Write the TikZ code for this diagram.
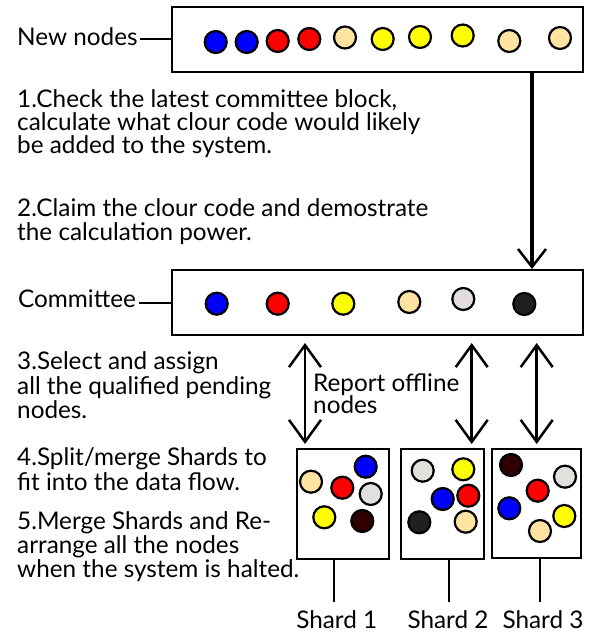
\documentclass[tikz,border=0pt]{standalone}
\usepackage{fontspec}
\setmainfont{Lato}
\usetikzlibrary{arrows.meta}
\definecolor{cblue}{HTML}{0000FF}
\definecolor{cred}{HTML}{FF0000}
\definecolor{ctan}{HTML}{FFE3A3}
\definecolor{cyel}{HTML}{FFFF00}
\definecolor{cgray}{HTML}{E2DCDC}
\definecolor{sgray}{HTML}{E0E0DC}
\definecolor{cdark}{HTML}{231F20}
\definecolor{cbrown}{HTML}{2E0000}
\tikzset{
  box/.style={draw=black, line width=2pt, fill=white, inner sep=0pt},
  dot/.style={circle, draw=black, line width=2.2pt, minimum size=22pt, inner sep=0pt},
  txt/.style={anchor=base west, inner sep=0pt, font=\fontsize{24.3}{26}\selectfont},
  lab/.style={anchor=base, inner sep=0pt, font=\fontsize{24.3}{26}\selectfont},
  lnk/.style={line width=2pt},
  bigarrow/.style={line width=4pt, -{Straight Barb[length=18pt,width=28pt,line width=2.5pt]}},
  dbl/.style={line width=2.5pt, {Straight Barb[length=22pt,width=32pt]}-{Straight Barb[length=22pt,width=32pt]}}
}
\begin{document}
\begin{tikzpicture}[x=1pt,y=-1pt]
\useasboundingbox[fill=white] (0,0) rectangle (598,634);
% boxes
\node[box, minimum width=411pt, minimum height=65pt] (nb) at (377.5,39.5) {};
\node[box, minimum width=411pt, minimum height=65pt] (cb) at (377.5,302.5) {};
\node[box, minimum width=92.6pt, minimum height=110pt] (s1) at (343,504) {};
\node[box, minimum width=83.3pt, minimum height=110pt] (s2) at (442.35,504) {};
\node[box, minimum width=88.4pt, minimum height=109pt] (s3) at (536.5,503.5) {};
% new nodes dots
\node[dot, fill=cblue] (n1) at (215.7,42) {};
\node[dot, fill=cblue] (n2) at (246.7,42) {};
\node[dot, fill=cred] (n3) at (277.7,41) {};
\node[dot, fill=cred] (n4) at (309.3,39) {};
\node[dot, fill=ctan] (n5) at (345,37.5) {};
\node[dot, fill=cyel] (n6) at (382.7,39) {};
\node[dot, fill=cyel] (n7) at (420,37) {};
\node[dot, fill=cyel] (n8) at (462.7,35.5) {};
\node[dot, fill=ctan] (n9) at (509.3,41) {};
\node[dot, fill=ctan] (n10) at (560,38) {};
% committee dots
\node[dot, fill=cblue] (c1) at (216.7,303.7) {};
\node[dot, fill=cred] (c2) at (277.7,303.7) {};
\node[dot, fill=cyel] (c3) at (343.3,303.7) {};
\node[dot, fill=ctan] (c4) at (409.3,302) {};
\node[dot, fill=cgray] (c5) at (463.3,299) {};
\node[dot, fill=cdark] (c6) at (524.3,304) {};
% shard 1
\node[dot, fill=ctan] (a1) at (311,481.7) {};
\node[dot, fill=cblue] (a2) at (365.7,466.7) {};
\node[dot, fill=cred] (a3) at (342.3,487.7) {};
\node[dot, fill=sgray] (a4) at (370.7,494) {};
\node[dot, fill=cyel] (a5) at (324.3,517.3) {};
\node[dot, fill=cbrown] (a6) at (362.3,521) {};
% shard 2
\node[dot, fill=sgray] (b1) at (422.7,470.7) {};
\node[dot, fill=cyel] (b2) at (463.3,469.3) {};
\node[dot, fill=cblue] (b3) at (442.7,499) {};
\node[dot, fill=cred] (b4) at (468.3,495.7) {};
\node[dot, fill=cdark] (b5) at (419.3,522.3) {};
\node[dot, fill=ctan] (b6) at (465.7,521.7) {};
% shard 3
\node[dot, fill=cbrown] (d1) at (511,465) {};
\node[dot, fill=sgray] (d2) at (565,476.7) {};
\node[dot, fill=cred] (d3) at (537.7,490.7) {};
\node[dot, fill=cblue] (d4) at (509.3,508.3) {};
\node[dot, fill=cyel] (d5) at (564.3,516) {};
\node[dot, fill=ctan] (d6) at (540,531) {};
% labels
\node[txt] (lnew) at (17,46) {New nodes};
\node[txt] (lcom) at (18,307) {Committee};
\draw[lnk] (lnew.east |- nb.west) ++(2,0) coordinate (lnewe) -- (nb.west);
\draw[lnk] (lcom.east |- cb.west) ++(3,0) coordinate (lcome) -- (cb.west);
% step texts
\node[txt] (t1a) at (17,107) {1.Check the latest committee block,};
\node[txt] (t1b) at (17,130) {calculate what clour code would likely};
\node[txt] (t1c) at (17,153) {be added to the system.};
\node[txt] (t2a) at (17,216) {2.Claim the clour code and demostrate};
\node[txt] (t2b) at (17,240) {the calculation power.};
\node[txt] (t3a) at (17,369) {3.Select and assign};
\node[txt] (t3b) at (17,394) {all the qualified pending};
\node[txt] (t3c) at (17,418) {nodes.};
\node[txt] (t4a) at (17,465) {4.Split/merge Shards to};
\node[txt] (t4b) at (17,490) {fit into the data flow.};
\node[txt] (t5a) at (17,529) {5.Merge Shards and Re-};
\node[txt] (t5b) at (17,553) {arrange all the nodes};
\node[txt] (t5c) at (17,577) {when the system is halted.};
\node[txt] (rep1) at (313,391) {Report offline};
\node[txt] (rep2) at (313,413) {nodes};
% shard labels
\node[lab] (ls1) at (336.7,628) {Shard 1};
\node[lab] (ls2) at (448,628) {Shard 2};
\node[lab] (ls3) at (543,628) {Shard 3};
% connectors
\coordinate (xa) at (532,0);
\draw[bigarrow] (nb.south -| xa) -- (cb.north -| xa);
\coordinate (x1) at (305,0);
\coordinate (x2) at (471.7,0);
\coordinate (x3) at (536.7,0);
\draw[dbl, shorten <=7pt, shorten >=4pt] (cb.south -| x1) -- (s1.north -| x1);
\draw[dbl, shorten <=7pt, shorten >=4pt] (cb.south -| x2) -- (s2.north -| x2);
\draw[dbl, shorten <=7pt, shorten >=4pt] (cb.south -| x3) -- (s3.north -| x3);
\draw[lnk] (s1.south -| 334.3,0) -- (334.3,602);
\draw[lnk] (s2.south -| 449,0) -- (449,602);
\draw[lnk] (s3.south -| 540,0) -- (540,602);
\end{tikzpicture}
\end{document}
